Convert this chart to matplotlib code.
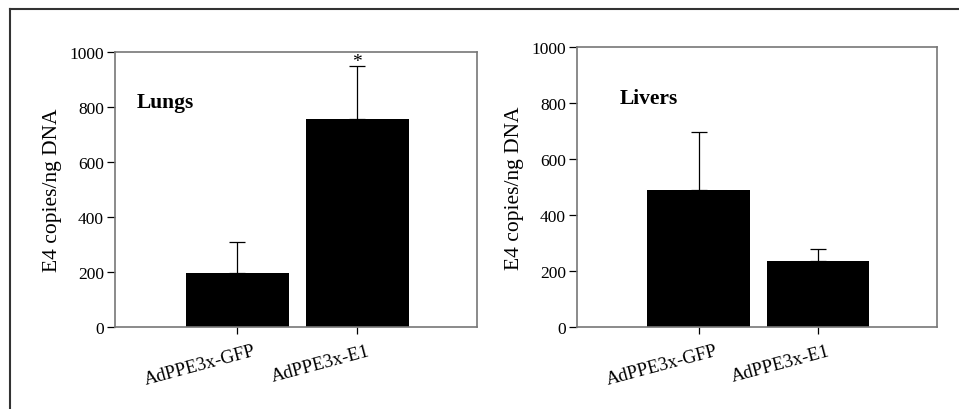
import matplotlib.pyplot as plt
from matplotlib.lines import Line2D

plt.rcParams['font.family'] = ['Liberation Serif', 'DejaVu Serif']

groups = ['AdPPE3x-GFP', 'AdPPE3x-E1']
lungs = [196, 758]
lungs_err = [112, 192]
livers = [490, 235]
livers_err = [206, 44]

W, H = 959, 410
fig = plt.figure(figsize=(W / 100, H / 100), dpi=100)

# outer frame (only top and left visible)
fig.add_artist(Line2D([10 / W, 1], [1 - 10 / H, 1 - 10 / H], color='#333333', lw=1.5))
fig.add_artist(Line2D([10 / W, 10 / W], [0, 1 - 10 / H], color='#333333', lw=1.5))


def panel(rect, vals, errs, label, lx, ly, star=False):
    ax = fig.add_axes([rect[0] / W, 1 - rect[3] / H, (rect[2] - rect[0]) / W, (rect[3] - rect[1]) / H])
    x = range(len(groups))
    ax.bar(x, vals, width=0.86, color='black', zorder=2)
    ax.errorbar(x, vals, yerr=[[0] * len(errs), errs], fmt='none', ecolor='black',
                elinewidth=0.9, capsize=6, capthick=0.9, zorder=1)
    ax.set_xlim(-1.02, 2.0)
    ax.set_ylim(0, 1000)
    ax.set_yticks([0, 200, 400, 600, 800, 1000])
    ax.set_xticks(list(x))
    ax.set_xticklabels([])
    # rotated category labels sit left of their ticks
    for i, g in enumerate(groups):
        ax.annotate(g, xy=(i, 0), xycoords=('data', 'axes fraction'),
                    xytext=(-37, -15), textcoords='offset pixels',
                    ha='center', va='top', rotation=15, fontsize=13.5)
    ax.tick_params(axis='y', labelsize=12.5, length=6, width=0.9, pad=2)
    ax.tick_params(axis='x', length=5, width=0.9)
    for s in ax.spines.values():
        s.set_color('#777777')
        s.set_linewidth(1.2)
    ax.set_ylabel('E4 copies/ng DNA', fontsize=15.5, labelpad=5)
    ax.text(lx, ly, label, fontsize=15.5, fontweight='bold', va='center', ha='left')
    if star:
        ax.text(1, 965, '*', fontsize=14, ha='center', va='center')
    return ax


panel((115, 53, 477, 328), lungs, lungs_err, 'Lungs', -0.84, 818, star=True)
panel((577, 48, 937, 328), livers, livers_err, 'Livers', -0.66, 817)

fig.savefig('out.png', dpi=100)
